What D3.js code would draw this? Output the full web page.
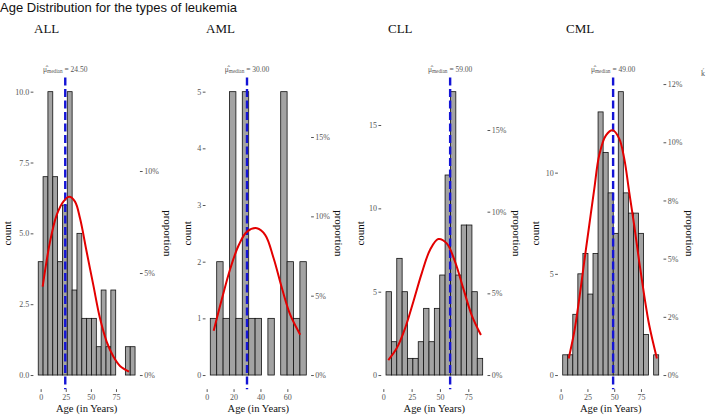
<!DOCTYPE html>
<html>
<head>
<meta charset="utf-8">
<script src="https://cdn.jsdelivr.net/npm/d3@7"></script>
<style>
  body { margin: 0; background: #fff; }
</style>
</head>
<body>
<div id="canvas"></div>
<script>
// data
const types = ["ALL", "AML", "CLL", "CML"];
const medians = [24.5, 30, 59, 49];
const binStarts = [-2.4, 2.7, 2.4, 1.9];
const binWidths = [4.82, 4.76, 4.74, 4.72];

const allCounts = [4, 7, 10, 7, 4, 6, 10, 3, 5, 2, 2, 2, 1, 3, 1, 3, 0, 0, 1, 1];
const amlCounts = [1, 2, 1, 5, 1, 5, 1, 1, 0, 1, 0, 5, 2, 1, 2];
const cllCounts = [5, 2, 7, 5, 1, 1, 2, 4, 2, 4, 6, 12, 17, 6, 9, 9, 5, 1];
const cmlCounts = [1, 1, 3, 5, 6, 4, 6, 13, 11, 9, 7, 14, 9, 8, 8, 7, 2, 0, 1];

// normal curve, [age, count]
const allCurve = [[2, 3.12], [9.3, 4.7], [16, 5.65], [22.6, 6.12], [28.5, 6.29], [34.2, 6.12], [39.2, 5.53],
  [45.8, 4.35], [52.4, 3.18], [59.1, 2.0], [65.7, 1.18], [72.4, 0.65], [79, 0.32], [88, 0.12]];
const amlCurve = [[5.2, 0.78], [11.4, 1.35], [17.6, 1.88], [23.8, 2.29], [30, 2.53], [37.4, 2.59], [43.6, 2.47],
  [49.8, 2.06], [56, 1.53], [62.2, 1.06], [69.6, 0.71]];
const cllCurve = [[4.4, 0.9], [11.8, 1.6], [19.2, 2.8], [26.5, 4.4], [33.9, 6.1], [41.2, 7.5], [48.5, 8.16],
  [56, 7.9], [63.3, 6.8], [70.6, 5.2], [78, 3.6], [86.2, 2.4]];
const cmlCurve = [[7.5, 0.82], [12.7, 2.14], [17.4, 3.78], [22, 5.59], [26.7, 7.4], [31.4, 9.2], [36, 10.86],
  [42.3, 11.84], [48.6, 12.09], [54.7, 11.68], [59.4, 10.69], [64, 9.05], [68.7, 7.4], [73.4, 5.59],
  [78, 3.95], [82.7, 2.47], [89.9, 0.82]];

const countTicks = [[0, 2.5, 5, 7.5, 10], [0, 1, 2, 3, 4, 5], [0, 5, 10, 15], [0, 5, 10]];
const countLabels = [["0.0", "2.5", "5.0", "7.5", "10.0"], ["0", "1", "2", "3", "4", "5"], ["0", "5", "10", "15"], ["0", "5", "10"]];
const ageTicks = [[0, 25, 50, 75], [0, 20, 40, 60], [0, 25, 50, 75], [0, 25, 50, 75]];
const propTicks = [[0, 0.05, 0.10], [0, 0.05, 0.10, 0.15], [0, 0.05, 0.10, 0.15], [0, 0.025, 0.05, 0.075, 0.10, 0.125]];
const propLabels = [["0%", "5%", "10%"], ["0%", "5%", "10%", "15%"], ["0%", "5%", "10%", "15%"], ["0%", "2%", "5%", "8%", "10%", "12%"]];

const counts = [allCounts, amlCounts, cllCounts, cmlCounts];
const curves = [allCurve, amlCurve, cllCurve, cmlCurve];

// layout
const width = 709, height = 416;
const panels = [
  { l: 33.4, r: 139.9, title: 34, countX: 6.7, propX: 168 },
  { l: 205.5, r: 311.1, title: 206, countX: 187, propX: 339 },
  { l: 381.2, r: 487.5, title: 388, countX: 360, propX: 516.7 },
  { l: 557.9, r: 663.5, title: 566, countX: 535, propX: 690 }
];
const panelTop = 77.5, panelBottom = 389.2;
const serif = "'Liberation Serif', 'Times New Roman', serif";
const tickColor = "#555";

const svg = d3.select("#canvas").append("svg")
  .attr("width", width)
  .attr("height", height);

svg.append("text")
  .attr("x", 0)
  .attr("y", 12)
  .attr("font-family", "'Liberation Sans', Arial, sans-serif")
  .attr("font-size", 13)
  .attr("fill", "#111")
  .text("Age Distribution for the types of leukemia");

svg.append("text")
  .attr("x", 701)
  .attr("y", 76)
  .attr("font-family", serif)
  .attr("font-size", 8)
  .attr("fill", tickColor)
  .text("ḱ");

types.forEach((type, k) => {
  const p = panels[k];
  const data = counts[k];
  const n = d3.sum(data);
  const bw = binWidths[k];
  const x0 = binStarts[k];
  const x1 = x0 + bw * data.length;
  const pad = (x1 - x0) * 0.05;
  const maxC = d3.max(data);

  const x = d3.scaleLinear().domain([x0 - pad, x1 + pad]).range([p.l, p.r]);
  const y = d3.scaleLinear().domain([-0.05 * maxC, 1.05 * maxC]).range([panelBottom, panelTop]);

  const g = svg.append("g");

  // bars
  g.selectAll("rect").data(data).enter().append("rect")
    .attr("x", (d, i) => x(x0 + i * bw))
    .attr("width", (d, i) => x(x0 + (i + 1) * bw) - x(x0 + i * bw))
    .attr("y", d => y(d))
    .attr("height", d => y(0) - y(d))
    .attr("fill", "#a3a3a3")
    .attr("stroke", "#111")
    .attr("stroke-width", 0.8);

  // median line
  g.append("line")
    .attr("x1", x(medians[k])).attr("x2", x(medians[k]))
    .attr("y1", panelTop).attr("y2", panelBottom)
    .attr("stroke", "#1414d6")
    .attr("stroke-width", 2.4)
    .attr("stroke-dasharray", "8,3.5");

  // normal curve
  const line = d3.line()
    .x(d => x(d[0]))
    .y(d => y(d[1]))
    .curve(d3.curveCatmullRom);
  g.append("path")
    .datum(curves[k])
    .attr("d", line)
    .attr("fill", "none")
    .attr("stroke", "#e30000")
    .attr("stroke-width", 2);

  // axes
  const styleAxis = sel => {
    sel.select(".domain").remove();
    sel.attr("font-family", serif).attr("font-size", 8);
    sel.selectAll(".tick line").attr("stroke", tickColor);
    sel.selectAll(".tick text").attr("fill", tickColor);
  };

  g.append("g")
    .attr("transform", `translate(${p.l},0)`)
    .call(d3.axisLeft(y).tickValues(countTicks[k]).tickFormat((d, i) => countLabels[k][i])
      .tickSize(2.75).tickPadding(1.5))
    .call(styleAxis);

  g.append("g")
    .attr("transform", `translate(${p.r},0)`)
    .call(d3.axisRight(y).tickValues(propTicks[k].map(v => v * n)).tickFormat((d, i) => propLabels[k][i])
      .tickSize(2.75).tickPadding(1.5))
    .call(styleAxis);

  g.append("g")
    .attr("transform", `translate(0,${panelBottom})`)
    .call(d3.axisBottom(x).tickValues(ageTicks[k]).tickSize(2.75).tickPadding(2))
    .call(styleAxis);

  // median label on top
  const lab = g.append("text")
    .attr("x", x(medians[k]))
    .attr("y", 71.5)
    .attr("text-anchor", "middle")
    .attr("font-family", serif)
    .attr("font-size", 7.5)
    .attr("fill", tickColor);
  lab.append("tspan").text("μ\u0302");
  lab.append("tspan").attr("font-size", 5.3).attr("dy", 1.5).text("median");
  lab.append("tspan").attr("dy", -1.5).text(" = " + medians[k].toFixed(2));

  // titles
  g.append("text")
    .attr("x", p.title)
    .attr("y", 33)
    .attr("font-family", serif)
    .attr("font-size", 13)
    .attr("fill", "#111")
    .text(type);

  g.append("text")
    .attr("transform", `translate(${p.countX},${(panelTop + panelBottom) / 2}) rotate(-90)`)
    .attr("dy", "0.35em")
    .attr("text-anchor", "middle")
    .attr("font-family", serif)
    .attr("font-size", 11)
    .attr("fill", "#111")
    .text("count");

  g.append("text")
    .attr("transform", `translate(${p.propX},${(panelTop + panelBottom) / 2}) rotate(90)`)
    .attr("dy", "0.35em")
    .attr("text-anchor", "middle")
    .attr("font-family", serif)
    .attr("font-size", 11)
    .attr("fill", "#111")
    .text("proportion");

  g.append("text")
    .attr("x", (p.l + p.r) / 2)
    .attr("y", 412)
    .attr("text-anchor", "middle")
    .attr("font-family", serif)
    .attr("font-size", 10.6)
    .attr("fill", "#111")
    .text("Age (in Years)");
});
</script>
</body>
</html>
